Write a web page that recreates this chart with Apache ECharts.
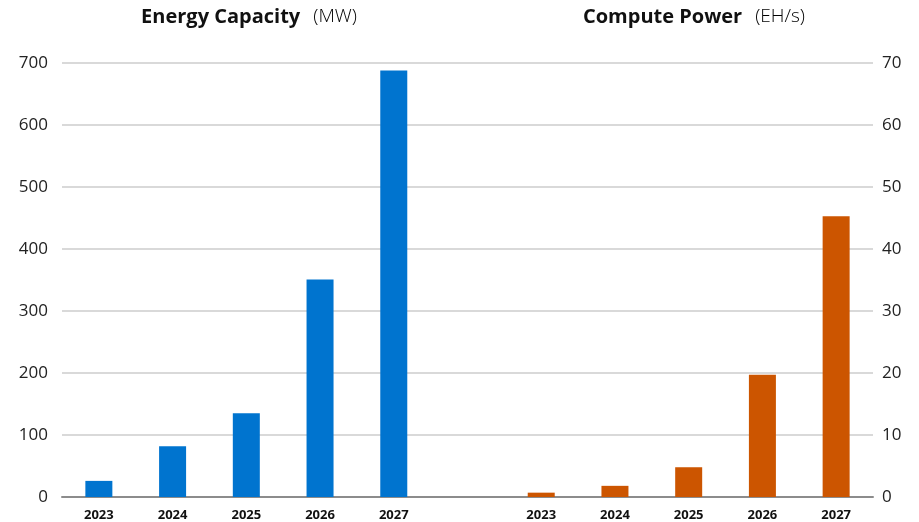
<!DOCTYPE html>
<html>
<head>
<meta charset="utf-8">
<script src="https://cdn.jsdelivr.net/npm/echarts@6/dist/echarts.min.js"></script>
<style>
  body { margin: 0; background: #fff; }
</style>
</head>
<body>
<div id="chart" style="width: 919px;height: 522px;"></div>
<script>
var years = ['2023', '2024', '2025', '2026', '2027'];
var energyMW = [26, 82, 135, 351, 688];
var computeEH = [0.7, 1.8, 4.8, 19.7, 45.3];
var leftTicks = [0, 100, 200, 300, 400, 500, 600, 700];
var rightTicks = [0, 10, 20, 30, 40, 50, 60, 70];

// one axis: five years, an empty slot, five years again
var categories = years.concat(['']).concat(years);
var blueData = energyMW.concat(['-', '-', '-', '-', '-', '-']);
var orangeData = ['-', '-', '-', '-', '-', '-'].concat(computeEH);

var myChart = echarts.init(document.getElementById('chart'));

var font = '"Open Sans", "Noto Sans", sans-serif';

var titleRich = {
    b: { fontWeight: 'bold', fontSize: 20, color: '#111', fontFamily: font },
    n: { fontSize: 19, fontWeight: 300, color: '#000', fontFamily: font, padding: [0, 0, 0, 13] }
};

option = {
    animation: false,
    textStyle: { fontFamily: font },
    title: [{
        text: '{b|Energy Capacity}{n|(MW)}',
        left: 244,
        top: 2,
        textAlign: 'center',
        textStyle: { rich: titleRich }
    }, {
        text: '{b|Compute Power}{n|(EH/s)}',
        left: 689,
        top: 2,
        textAlign: 'center',
        textStyle: { rich: titleRich }
    }],
    grid: {
        left: 62,
        right: 46,
        top: 63,
        bottom: 25
    },
    xAxis: {
        type: 'category',
        data: categories,
        axisTick: { show: false },
        axisLine: { lineStyle: { color: '#8c8c8c', width: 2 } },
        axisLabel: {
            color: '#111',
            fontWeight: 'bold',
            fontSize: 13,
            margin: 12,
            interval: 0
        }
    },
    yAxis: [{
        type: 'value',
        min: leftTicks[0],
        max: leftTicks[leftTicks.length - 1],
        interval: 100,
        axisLine: { show: false },
        axisTick: { show: false },
        axisLabel: { color: '#222', fontSize: 17, margin: 14 },
        splitLine: { lineStyle: { color: '#d9d9d9', width: 2 } }
    }, {
        type: 'value',
        position: 'right',
        min: rightTicks[0],
        max: rightTicks[rightTicks.length - 1],
        interval: 10,
        axisLine: { show: false },
        axisTick: { show: false },
        axisLabel: { color: '#222', fontSize: 17, margin: 9 },
        splitLine: { show: false }
    }],
    series: [{
        name: 'Energy Capacity',
        type: 'bar',
        yAxisIndex: 0,
        data: blueData,
        barWidth: 27,
        barGap: '-100%',
        itemStyle: { color: '#0074cf' }
    }, {
        name: 'Compute Power',
        type: 'bar',
        yAxisIndex: 1,
        data: orangeData,
        barWidth: 27,
        itemStyle: { color: '#cc5500' }
    }]
};

myChart.setOption(option);
</script>
</body>
</html>
